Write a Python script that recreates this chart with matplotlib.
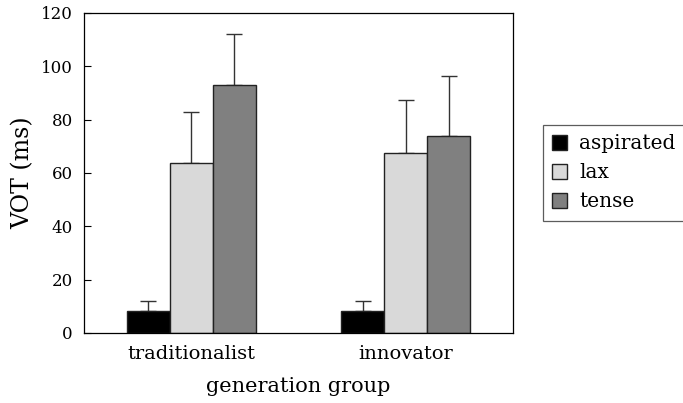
import matplotlib
matplotlib.use("Agg")
import matplotlib.pyplot as plt
import numpy as np

plt.rcParams['font.family'] = ['DejaVu Serif']

groups = ["traditionalist", "innovator"]
series = ["aspirated", "lax", "tense"]
means = {
    "aspirated": [8.2, 8.1],
    "lax": [63.6, 67.6],
    "tense": [93.0, 74.0],
}
errs = {
    "aspirated": [3.9, 3.9],
    "lax": [19.1, 19.6],
    "tense": [19.2, 22.5],
}
colors = {"aspirated": "#000000", "lax": "#d9d9d9", "tense": "#808080"}

fig = plt.figure(figsize=(6.83, 4.03), dpi=100)
ax = fig.add_axes([0.123, 0.174, 0.628, 0.794])

x = np.arange(len(groups))
w = 0.2
for i, s in enumerate(series):
    pos = x + (i - 1) * w
    ax.bar(pos, means[s], width=w, color=colors[s], edgecolor="#222222",
           linewidth=1.0, label=s, zorder=2)
    ax.errorbar(pos, means[s], yerr=[np.zeros(len(groups)), errs[s]],
                fmt="none", ecolor="#333333", elinewidth=1.0, capsize=6,
                capthick=1.0, zorder=1)

ax.set_xlim(-0.5, 1.5)
ax.set_ylim(0, 120)
ax.set_yticks(range(0, 121, 20))
ax.set_xticks(x)
ax.set_xticklabels(groups)
ax.tick_params(axis='y', direction='in', length=5, labelsize=12, pad=8)
ax.tick_params(axis='x', length=0, labelsize=14, pad=9)
ax.set_ylabel("VOT (ms)", fontsize=17, labelpad=5)
ax.set_xlabel("generation group", fontsize=15, labelpad=10)
for sp in ax.spines.values():
    sp.set_linewidth(0.9)

leg = fig.legend(loc="center left", bbox_to_anchor=(0.795, 0.571),
                 fontsize=14.5, frameon=True, fancybox=False, edgecolor="#333333",
                 handlelength=0.75, handleheight=0.75, handletextpad=0.6,
                 labelspacing=0.5, borderpad=0.45, borderaxespad=0)
leg.get_frame().set_linewidth(0.9)

fig.savefig("out.png", dpi=100)
